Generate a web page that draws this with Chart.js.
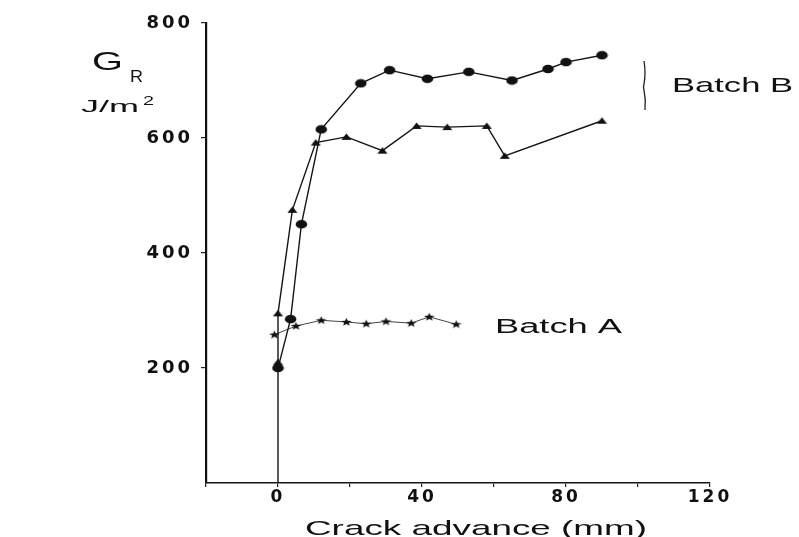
<!DOCTYPE html>
<html>
<head>
<meta charset="utf-8">
<title>Crack advance</title>
<script src="https://cdn.jsdelivr.net/npm/chart.js@4"></script>
<style>
  html, body { margin: 0; padding: 0; background: #fff; }
  #chart-box { width: 799px; height: 537px; }
</style>
</head>
<body>
<div id="chart-box"><canvas id="my-chart"></canvas></div>
<script>
'use strict';

// ******* DATA *******
// Batch B, round markers (first point is the foot of the curve on the axis)
let circleX = [0, 0, 3.5, 6.5, 12, 23, 31, 41.5, 53, 65, 75, 80, 90];
let circleY = [0, 200, 285, 450, 615, 695, 718, 703, 715, 700, 720, 732, 744];

// Batch B, triangle markers
let triangleX = [0, 0, 4, 10.5, 19, 29, 38.5, 47, 58, 63, 90];
let triangleY = [210, 295, 475, 592, 602, 578, 621, 619, 621, 569, 630];

// Batch A, star markers
let starX = [-1, 5, 12, 19, 24.5, 30, 37, 42, 49.5];
let starY = [258, 273, 283, 280, 277, 281, 278, 289, 276];

let xTickLabels = [0, 40, 80, 120];
let yTickLabels = [200, 400, 600, 800];

// ******* HELPERS *******
function toPoints(xs, ys) {
  let pts = [];
  for (let i = 0; i < xs.length; i++) {
    pts.push({ x: xs[i], y: ys[i] });
  }
  return pts;
}

// little canvases used as point markers (the scan is stretched sideways)
function makeMarker(kind) {
  let c = document.createElement('canvas');
  c.width = 13;
  c.height = 10;
  let g = c.getContext('2d');
  g.fillStyle = '#111';
  g.beginPath();
  if (kind === 'circle') {
    g.ellipse(6.5, 5, 5.8, 4.3, 0, 0, Math.PI * 2);
  } else if (kind === 'triangle') {
    g.moveTo(6.5, 1.5);
    g.lineTo(11.5, 8);
    g.lineTo(1.5, 8);
    g.closePath();
  } else {
    for (let i = 0; i < 10; i++) {
      let r = i % 2 === 0 ? 4.4 : 1.8;
      let a = -Math.PI / 2 + i * Math.PI / 5;
      let px = 6.5 + r * Math.cos(a) * 1.3;
      let py = 5.3 + r * Math.sin(a);
      if (i === 0) g.moveTo(px, py); else g.lineTo(px, py);
    }
    g.closePath();
  }
  g.fill();
  return c;
}

// draws text squeezed/stretched to a given width
function stretchText(ctx, text, left, baseline, font, width) {
  ctx.save();
  ctx.font = font;
  ctx.letterSpacing = '0px';
  let w = ctx.measureText(text).width;
  ctx.translate(left, baseline);
  ctx.scale(width / w, 1);
  ctx.textAlign = 'left';
  ctx.textBaseline = 'alphabetic';
  ctx.fillStyle = '#111';
  ctx.fillText(text, 0, 0);
  ctx.restore();
}

// ******* PLUGIN FOR THE HAND LETTERING *******
let lettering = {
  id: 'lettering',
  beforeDraw(chart) {
    chart.ctx.letterSpacing = '3px';
  },
  beforeDatasetsDraw(chart) {
    chart.ctx.letterSpacing = '0px';
  },
  afterDraw(chart) {
    let ctx = chart.ctx;
    let sans = 'Liberation Sans, Arial, sans-serif';
    stretchText(ctx, 'G', 92, 70, '25px ' + sans, 31);
    stretchText(ctx, 'R', 130, 82, '16px ' + sans, 13);
    stretchText(ctx, 'J/m', 81, 112, '17px ' + sans, 58);
    stretchText(ctx, '2', 143, 105, '12px ' + sans, 11);
    stretchText(ctx, 'Batch B', 672, 92, '21px ' + sans, 121);
    stretchText(ctx, 'Batch A', 495, 333, '20px ' + sans, 127);
    stretchText(ctx, 'Crack advance (mm)', 305, 535, '21px ' + sans, 342);

    // bracket next to Batch B
    ctx.save();
    ctx.strokeStyle = '#222';
    ctx.lineWidth = 1.3;
    ctx.beginPath();
    ctx.moveTo(644, 61);
    ctx.quadraticCurveTo(646, 73, 644, 84);
    ctx.quadraticCurveTo(643, 87, 644, 90);
    ctx.quadraticCurveTo(646, 100, 645, 110);
    ctx.stroke();
    ctx.restore();
  }
};

// ******* CHART *******
let canvasElem = document.getElementById('my-chart').getContext('2d');

let lineBase = {
  showLine: true,
  fill: false,
  tension: 0,
  pointRadius: function (ctx) {
    return ctx.raw && ctx.raw.y === 0 ? 0 : 5;
  },
  pointHoverRadius: 5
};

let myChartObj = {
  type: 'scatter',
  data: {
    datasets: [
      Object.assign({}, lineBase, {
        label: 'Batch B (circles)',
        data: toPoints(circleX, circleY),
        borderColor: '#151515',
        borderWidth: 1.4,
        pointStyle: makeMarker('circle')
      }),
      Object.assign({}, lineBase, {
        label: 'Batch B (triangles)',
        data: toPoints(triangleX, triangleY),
        borderColor: '#151515',
        borderWidth: 1.4,
        pointStyle: makeMarker('triangle')
      }),
      Object.assign({}, lineBase, {
        label: 'Batch A',
        data: toPoints(starX, starY),
        borderColor: '#444',
        borderWidth: 1,
        pointStyle: makeMarker('star')
      })
    ]
  },
  options: {
    responsive: true,
    maintainAspectRatio: false,
    animation: false,
    layout: {
      padding: { left: 0, right: 89, top: 23, bottom: 0 }
    },
    plugins: {
      legend: { display: false },
      tooltip: { enabled: false }
    },
    scales: {
      x: {
        type: 'linear',
        min: -20,
        max: 120,
        ticks: {
          stepSize: 20,
          autoSkip: false,
          maxRotation: 0,
          padding: 0,
          color: '#111',
          font: { family: 'DejaVu Sans', size: 17, weight: 'bold' },
          callback: function (v) {
            return xTickLabels.includes(v) ? String(v) : '';
          }
        },
        grid: {
          drawOnChartArea: false,
          drawTicks: true,
          tickLength: 4,
          color: '#222',
          lineWidth: 1.2
        },
        border: { display: true, color: '#151515', width: 1.6 },
        afterFit: function (scale) {
          scale.height = 54;
        }
      },
      y: {
        type: 'linear',
        min: 0,
        max: 800,
        ticks: {
          stepSize: 200,
          padding: 8,
          color: '#111',
          font: { family: 'DejaVu Sans', size: 18, weight: 'bold' },
          callback: function (v) {
            return yTickLabels.includes(v) ? String(v) : '';
          }
        },
        grid: {
          drawOnChartArea: false,
          drawTicks: true,
          tickLength: 5,
          color: function (ctx) {
            return ctx.tick && yTickLabels.includes(ctx.tick.value) ? '#222' : 'rgba(0,0,0,0)';
          },
          lineWidth: 1.2
        },
        border: { display: true, color: '#111', width: 2.2 },
        afterFit: function (scale) {
          scale.width = 206;
        }
      }
    }
  },
  plugins: [lettering]
};

new Chart(canvasElem, myChartObj);
</script>
</body>
</html>
